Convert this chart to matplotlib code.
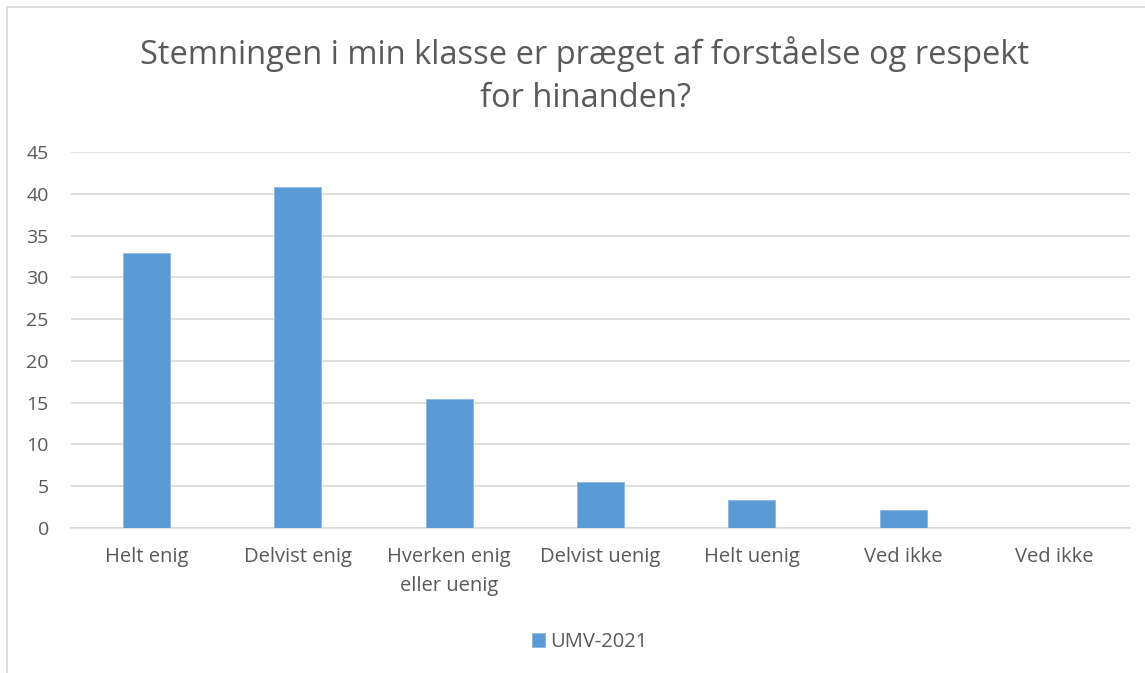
import numpy as np
import matplotlib.pyplot as plt
from matplotlib.patches import Rectangle

# Data
kategorier = ['Helt enig', 'Delvist enig', 'Hverken enig\neller uenig', 'Delvist uenig',
              'Helt uenig', 'Ved ikke', 'Ved ikke']
umv_2021 = [32.9, 40.8, 15.4, 5.5, 3.3, 2.2, 0]
titel = 'Stemningen i min klasse er præget af forståelse og respekt\nfor hinanden?'
serie_navn = 'UMV-2021'

tekst_farve = '#595959'
bar_farve = '#5B9BD5'
grid_farve = '#D9D9D9'

plt.rcParams['font.family'] = ['Open Sans', 'DejaVu Sans']

fig = plt.figure(figsize=(11.45, 6.73), dpi=100)
ax = fig.add_axes([71 / 1145, 1 - 528 / 673, (1130 - 71) / 1145, (528 - 152) / 673])

# ramme rundt om diagrammet
fig.patches.append(Rectangle((7 / 1145, -0.1), 1.2, 1 - 7 / 673 + 0.1, transform=fig.transFigure,
                             fill=False, edgecolor=grid_farve, linewidth=1.2))

x = np.arange(len(kategorier))
ax.bar(x, umv_2021, width=0.31, color=bar_farve, edgecolor='#8DB8E2', linewidth=0.6,
       label=serie_navn, zorder=3)

ax.set_xlim(-0.5, len(kategorier) - 0.5)
ax.set_ylim(0, 45)
ax.set_yticks(np.arange(0, 46, 5))
ax.set_xticks(x)
ax.set_xticklabels(kategorier, fontsize=14.5, color=tekst_farve, linespacing=1.6, va='top')
ax.tick_params(axis='y', labelsize=14, labelcolor=tekst_farve, length=0, pad=16)
ax.tick_params(axis='x', length=0, pad=14)
ax.grid(axis='y', color=grid_farve, linewidth=1.2, zorder=0)
for side in ['top', 'right', 'left']:
    ax.spines[side].set_visible(False)
ax.spines['bottom'].set_color(grid_farve)
ax.spines['bottom'].set_linewidth(1.2)

fig.text(585 / 1145, 1 - 76 / 673, titel, ha='center', va='center', fontsize=23.5,
         color=tekst_farve, linespacing=1.4)

leg = fig.legend(loc='center', bbox_to_anchor=(590 / 1145, 1 - 642 / 673), frameon=False,
                 fontsize=14.5, handlelength=0.65, handleheight=0.65, handletextpad=0.25)
for t in leg.get_texts():
    t.set_color(tekst_farve)

plt.savefig('out.png', dpi=100)
